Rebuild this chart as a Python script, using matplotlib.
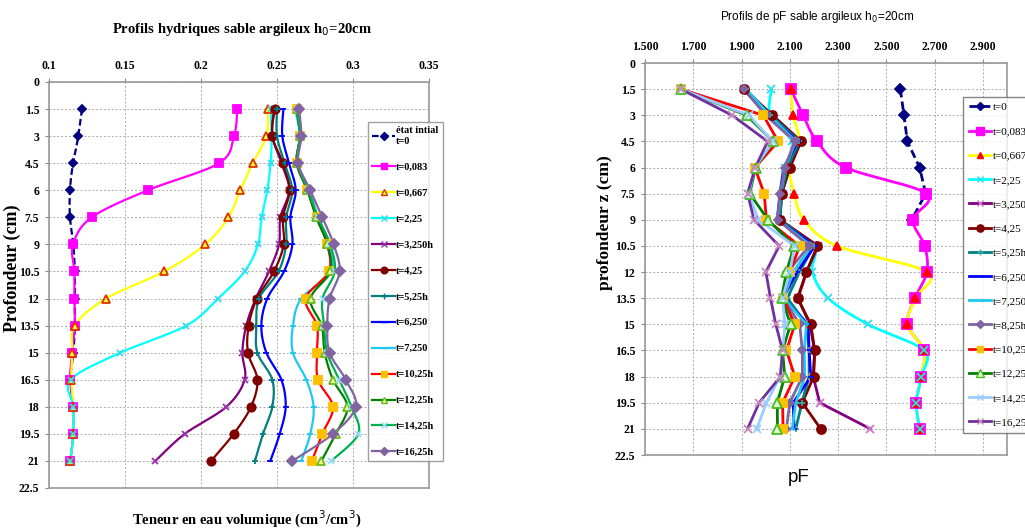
import numpy as np
import matplotlib
matplotlib.use("Agg")
import matplotlib.pyplot as plt
from matplotlib.lines import Line2D
from matplotlib import font_manager

# ---------------- data ----------------
depths = [1.5, 3, 4.5, 6, 7.5, 9, 10.5, 12, 13.5, 15, 16.5, 18, 19.5, 21]
depth_ticks = [0, 1.5, 3, 4.5, 6, 7.5, 9, 10.5, 12, 13.5, 15, 16.5, 18, 19.5, 21, 22.5]

# Left chart: volumetric water content
theta_labels = ["état intial\nt=0", "t=0,083", "t=0,667", "t=2,25", "t=3,250h", "t=4,25",
                "t=5,25h", "t=6,250", "t=7,250", "t=10,25h", "t=12,25h", "t=14,25h", "t=16,25h"]
theta_t0 = [0.1217, 0.1193, 0.1158, 0.1138, 0.1138, 0.116, 0.117, 0.117, 0.117, 0.116, 0.114, 0.116, 0.116, 0.114]
theta_t0083 = [0.2239, 0.2217, 0.2118, 0.1649, 0.1281, 0.1158, 0.1167, 0.1167, 0.1170, 0.1151, 0.1140, 0.1160, 0.1160, 0.1140]
theta_t0667 = [0.2440, 0.2430, 0.2340, 0.2259, 0.2180, 0.2028, 0.1757, 0.1375, 0.1169, 0.1154, 0.1147, 0.1160, 0.1160, 0.1140]
theta_t225 = [0.2460, 0.2465, 0.2458, 0.2436, 0.2399, 0.2375, 0.2287, 0.2112, 0.1904, 0.1469, 0.1143, 0.1160, 0.1160, 0.1140]
theta_t325 = [0.2480, 0.2470, 0.2530, 0.2580, 0.2522, 0.2513, 0.2447, 0.2360, 0.2298, 0.2272, 0.2287, 0.2167, 0.1893, 0.1700]
theta_t425 = [0.2485, 0.2469, 0.2539, 0.2583, 0.2539, 0.2544, 0.2480, 0.2368, 0.2314, 0.2309, 0.2371, 0.2329, 0.2215, 0.2066]
theta_t525 = [0.2500, 0.2500, 0.2550, 0.2600, 0.2560, 0.2560, 0.2510, 0.2382, 0.2364, 0.2371, 0.2469, 0.2469, 0.2408, 0.2355]
theta_t625 = [0.2542, 0.2535, 0.2579, 0.2623, 0.2588, 0.2601, 0.2546, 0.2436, 0.2397, 0.2430, 0.2529, 0.2557, 0.2518, 0.2456]
theta_t725 = [0.2620, 0.2650, 0.2630, 0.2710, 0.2770, 0.2840, 0.2860, 0.2660, 0.2605, 0.2605, 0.2693, 0.2741, 0.2719, 0.2660]
theta_t1025 = [0.2630, 0.2650, 0.2630, 0.2700, 0.2760, 0.2830, 0.2840, 0.2689, 0.2763, 0.2763, 0.2770, 0.2868, 0.2798, 0.2730]
theta_t1225 = [0.2630, 0.2650, 0.2630, 0.2700, 0.2759, 0.2831, 0.2851, 0.2721, 0.2794, 0.2814, 0.2868, 0.2963, 0.2886, 0.2792]
theta_t1425 = [0.2630, 0.2650, 0.2635, 0.2705, 0.2770, 0.2850, 0.2880, 0.2800, 0.2810, 0.2830, 0.2910, 0.2990, 0.3035, 0.2857]
theta_t1625 = [0.2645, 0.2660, 0.2640, 0.2719, 0.2798, 0.2873, 0.2912, 0.2846, 0.2831, 0.2846, 0.2952, 0.3018, 0.2868, 0.2601]
theta_series = [theta_t0, theta_t0083, theta_t0667, theta_t225, theta_t325, theta_t425, theta_t525,
                theta_t625, theta_t725, theta_t1025, theta_t1225, theta_t1425, theta_t1625]
theta_ticks = [0.1, 0.15, 0.2, 0.25, 0.3, 0.35]

# Right chart: pF
pf_labels = ["t=0", "t=0,083", "t=0,667", "t=2,25", "t=3,250h", "t=4,25", "t=5,25h", "t=6,250",
             "t=7,250", "t=8,25h", "t=10,25h", "t=12,25h", "t=14,25h", "t=16,25h"]
pf_depth_t0 = [1.5, 3, 4.5, 6, 7.5, 9]
pf_t0 = [2.558, 2.573, 2.587, 2.638, 2.663, 2.605]
pf_t0083 = [2.104, 2.155, 2.213, 2.332, 2.666, 2.610, 2.659, 2.668, 2.619, 2.587, 2.656, 2.645, 2.624, 2.638]
pf_t0667 = [2.103, 2.114, 2.139, 2.100, 2.118, 2.159, 2.296, 2.668, 2.620, 2.587, 2.656, 2.645, 2.624, 2.638]
pf_t225 = [2.024, 2.020, 2.110, 2.080, 2.070, 2.060, 2.200, 2.194, 2.259, 2.424, 2.656, 2.645, 2.624, 2.638]
pf_t325 = [1.910, 2.028, 2.146, 2.100, 2.066, 2.059, 2.217, 2.169, 2.134, 2.183, 2.203, 2.197, 2.224, 2.434]
pf_t425 = [1.911, 2.028, 2.146, 2.100, 2.066, 2.059, 2.214, 2.169, 2.132, 2.187, 2.203, 2.199, 2.152, 2.228]
pf_t525 = [1.915, 2.020, 2.140, 2.090, 2.065, 2.060, 2.200, 2.140, 2.090, 2.170, 2.180, 2.180, 2.150, 2.125]
pf_t625 = [1.907, 2.010, 2.134, 2.075, 2.059, 2.048, 2.203, 2.130, 2.072, 2.176, 2.180, 2.187, 2.114, 2.118]
pf_t725 = [1.920, 2.015, 2.125, 2.080, 2.062, 2.050, 2.190, 2.114, 2.075, 2.169, 2.160, 2.162, 2.125, 2.110]
pf_t825 = [1.910, 2.000, 2.120, 2.080, 2.060, 2.050, 2.180, 2.090, 2.072, 2.141, 2.152, 2.152, 2.100, 2.086]
pf_t1025 = [1.648, 1.990, 2.052, 1.955, 1.994, 2.003, 2.141, 2.100, 2.072, 2.121, 2.086, 2.121, 2.070, 2.072]
pf_t1225 = [1.648, 1.921, 2.031, 1.958, 1.934, 2.010, 2.118, 2.086, 2.066, 2.103, 2.070, 2.079, 2.048, 2.049]
pf_t1425 = [1.648, 1.930, 2.030, 1.955, 1.930, 1.970, 2.120, 2.100, 2.070, 2.080, 2.070, 2.060, 2.003, 1.963]
pf_t1625 = [1.648, 1.861, 2.008, 1.957, 1.925, 1.952, 2.056, 2.001, 2.020, 2.042, 2.070, 2.061, 1.973, 1.925]
pf_series = [pf_t0, pf_t0083, pf_t0667, pf_t225, pf_t325, pf_t425, pf_t525, pf_t625,
             pf_t725, pf_t825, pf_t1025, pf_t1225, pf_t1425, pf_t1625]
pf_ticks = [1.5, 1.7, 1.9, 2.1, 2.3, 2.5, 2.7, 2.9]

# ---------------- styles ----------------
left_styles = [
    dict(color="#000080", ls=(0, (3, 1.5)), marker="D", ms=4.5, mfc="#000080", mec="#000080"),
    dict(color="#FF00FF", ls="-", marker="s", ms=6, mfc="#FF00FF", mec="#FF00FF"),
    dict(color="#FFFF00", ls="-", marker="^", ms=6, mfc="#FFFF33", mec="#E03000"),
    dict(color="#00FFFF", ls="-", marker="x", ms=5, mfc="#00FFFF", mec="#33DDEE"),
    dict(color="#800080", ls="-", marker="x", ms=5, mfc="#800080", mec="#9933AA"),
    dict(color="#800000", ls="-", marker="o", ms=6, mfc="#800000", mec="#800000"),
    dict(color="#008080", ls="-", marker="+", ms=5, mfc="#008080", mec="#008080"),
    dict(color="#0000FF", ls="-", marker="_", ms=5, mfc="#0000FF", mec="#0000FF"),
    dict(color="#1FC8F0", ls="-", marker="_", ms=5, mfc="#1FC8F0", mec="#1FC8F0"),
    dict(color="#FF0000", ls="-", marker="s", ms=5.5, mfc="#FFC000", mec="#FFC000"),
    dict(color="#008000", ls="-", marker="^", ms=6, mfc="#EEFF88", mec="#66BB22"),
    dict(color="#00B050", ls="-", marker="x", ms=5, mfc="#99DDFF", mec="#99DDFF"),
    dict(color="#8064A2", ls="-", marker="D", ms=5, mfc="#8064A2", mec="#8064A2"),
]
right_styles = [
    dict(color="#000080", ls=(0, (3, 1.5)), marker="D", ms=5.5, mfc="#000080", mec="#000080"),
    dict(color="#FF00FF", ls="-", marker="s", ms=6.5, mfc="#FF00FF", mec="#FF00FF"),
    dict(color="#FFFF00", ls="-", marker="^", ms=5.5, mfc="#FF0000", mec="#FF0000"),
    dict(color="#00FFFF", ls="-", marker="x", ms=6, mfc="#00FFFF", mec="#33DDEE"),
    dict(color="#800080", ls="-", marker="x", ms=6, mfc="#CC77CC", mec="#CC77CC"),
    dict(color="#800000", ls="-", marker="o", ms=6.5, mfc="#800000", mec="#800000"),
    dict(color="#008080", ls="-", marker="+", ms=5, mfc="#33AAAA", mec="#33AAAA"),
    dict(color="#0000FF", ls="-", marker="_", ms=5, mfc="#0000FF", mec="#0000FF"),
    dict(color="#1FC8F0", ls="-", marker="_", ms=5, mfc="#1FC8F0", mec="#1FC8F0"),
    dict(color="#8064A2", ls="-", marker="D", ms=4.5, mfc="#8064A2", mec="#8064A2"),
    dict(color="#FF0000", ls="-", marker="s", ms=6, mfc="#FFC000", mec="#FFC000"),
    dict(color="#008000", ls="-", marker="^", ms=6.5, mfc="#DDFFCC", mec="#44BB22"),
    dict(color="#99CCFF", ls="-", marker="x", ms=6, mfc="#99CCFF", mec="#99CCFF"),
    dict(color="#7030A0", ls="-", marker="x", ms=6, mfc="#CC88BB", mec="#CC88BB"),
]


def smooth(xs, ys, n=16):
    """Catmull-Rom (Excel-like) smoothed curve through the points."""
    P = np.column_stack([xs, ys]).astype(float)
    out = [P[0]]
    m = len(P)
    for i in range(m - 1):
        p0 = P[i - 1] if i > 0 else P[i]
        p1, p2 = P[i], P[i + 1]
        p3 = P[i + 2] if i + 2 < m else P[i + 1]
        c1 = p1 + (p2 - p0) / 6.0
        c2 = p2 - (p3 - p1) / 6.0
        t = np.linspace(0, 1, n)[1:, None]
        seg = ((1 - t) ** 3) * p1 + 3 * ((1 - t) ** 2) * t * c1 + 3 * (1 - t) * t ** 2 * c2 + t ** 3 * p2
        out.extend(seg)
    out = np.array(out)
    return out[:, 0], out[:, 1]


installed = {f.name for f in font_manager.fontManager.ttflist}
SERIF = ["Liberation Serif", "DejaVu Serif"]
SANS = ["Liberation Sans", "DejaVu Sans"]
NARROW = (["Liberation Sans Narrow"] if "Liberation Sans Narrow" in installed else []) + SANS
plt.rcParams["font.family"] = SERIF

fig = plt.figure(figsize=(10.25, 5.3), dpi=100)
fig.patch.set_facecolor("white")

W, H = 1025.0, 530.0


def add_axes(x0, x1, y0, y1):
    return fig.add_axes([x0 / W, 1 - y1 / H, (x1 - x0) / W, (y1 - y0) / H])


def style_axes(ax, xticks, xfmt, xlim, tick_fs):
    ax.set_ylim(22.5, 0)
    ax.set_xlim(*xlim)
    ax.set_yticks(depth_ticks)
    ax.set_yticklabels([("%g" % v) for v in depth_ticks], fontsize=tick_fs, fontweight="bold")
    ax.set_xticks(xticks)
    ax.set_xticklabels([xfmt % v for v in xticks], fontsize=tick_fs, fontweight="bold")
    ax.xaxis.tick_top()
    ax.tick_params(axis="both", length=3, color="#888888", pad=4)
    ax.grid(True, ls=(0, (2, 2)), lw=0.7, color="#AAAAAA")
    ax.set_axisbelow(True)
    for s in ax.spines.values():
        s.set_color("#999999")
        s.set_linewidth(1.2)


# ---------------- left chart ----------------
axL = add_axes(49, 429, 82, 488)
style_axes(axL, theta_ticks, "%g", (0.1, 0.35), 8.5)
handlesL = []
for vals, st, lab in zip(theta_series, left_styles, theta_labels):
    sx, sy = smooth(vals, depths)
    lw = 1.6
    axL.plot(sx, sy, color=st["color"], ls=st["ls"], lw=lw, zorder=3)
    axL.plot(vals, depths, ls="none", marker=st["marker"], ms=st["ms"], mfc=st["mfc"],
             mec=st["mec"], mew=1.3, zorder=4)
    handlesL.append(Line2D([], [], color=st["color"], ls=st["ls"], lw=lw, marker=st["marker"],
                           ms=st["ms"] * 0.8, mfc=st["mfc"], mec=st["mec"], mew=1.0, label=lab))
legL = axL.legend(handles=handlesL, loc="upper left", bbox_to_anchor=(319 / 380, 1 - 40 / 406),
                  prop=dict(family=SERIF, size=7.5, weight="bold"), frameon=True, fancybox=False,
                  borderaxespad=0, handlelength=2.2, handletextpad=0.1, labelspacing=1.6,
                  borderpad=0.4)
legL.get_frame().set_edgecolor("#888888")
legL.get_frame().set_linewidth(1.0)

fig.text(242 / W, 1 - 30 / H, "Profils hydriques sable argileux h$_0$=20cm", ha="center", va="center",
         fontsize=10.5, fontweight="bold", family=SERIF)
fig.text(247 / W, 1 - 519 / H, "Teneur en eau volumique (cm$^3$/cm$^3$)", ha="center", va="center",
         fontsize=10.5, fontweight="bold", family=SERIF)
fig.text(12 / W, 1 - 268 / H, "Profondeur (cm)", ha="center", va="center", rotation=90,
         fontsize=13, fontweight="bold", family=SERIF)

# ---------------- right chart ----------------
axR = add_axes(645, 1007, 63, 455)
style_axes(axR, pf_ticks, "%.3f", (1.5, 3.0), 8.5)
handlesR = []
for i, (vals, st, lab) in enumerate(zip(pf_series, right_styles, pf_labels)):
    ys = pf_depth_t0 if i == 0 else depths
    lw = 2.0
    if i in (1, 2, 3):
        sx, sy = smooth(vals, ys)
    else:
        sx, sy = vals, ys
    axR.plot(sx, sy, color=st["color"], ls=st["ls"], lw=lw, zorder=3)
    axR.plot(vals, ys, ls="none", marker=st["marker"], ms=st["ms"], mfc=st["mfc"],
             mec=st["mec"], mew=1.3, zorder=4)
    handlesR.append(Line2D([], [], color=st["color"], ls=st["ls"], lw=lw, marker=st["marker"],
                           ms=st["ms"] * 0.8, mfc=st["mfc"], mec=st["mec"], mew=1.0, label=lab))
legR = axR.legend(handles=handlesR, loc="upper left", bbox_to_anchor=(318 / 362, 1 - 34 / 392),
                  prop=dict(family=SERIF, size=8), frameon=True, fancybox=False,
                  borderaxespad=0, handlelength=2.0, handletextpad=0.2, labelspacing=1.3,
                  borderpad=0.5)
legR.get_frame().set_edgecolor("#666666")
legR.get_frame().set_linewidth(1.0)

fig.text(817 / W, 1 - 17 / H, "Profils de pF sable argileux h$_0$=20cm", ha="center", va="center",
         fontsize=10 if NARROW[0].endswith("Narrow") else 8.5, family=NARROW)
fig.text(799 / W, 1 - 478 / H, "pF", ha="center", va="center", fontsize=13.5, family=SANS)
fig.text(605 / W, 1 - 223 / H, "profondeur z (cm)", ha="center", va="center", rotation=90,
         fontsize=12.5, fontweight="bold", family=SERIF)

fig.savefig("out.png", dpi=100)
